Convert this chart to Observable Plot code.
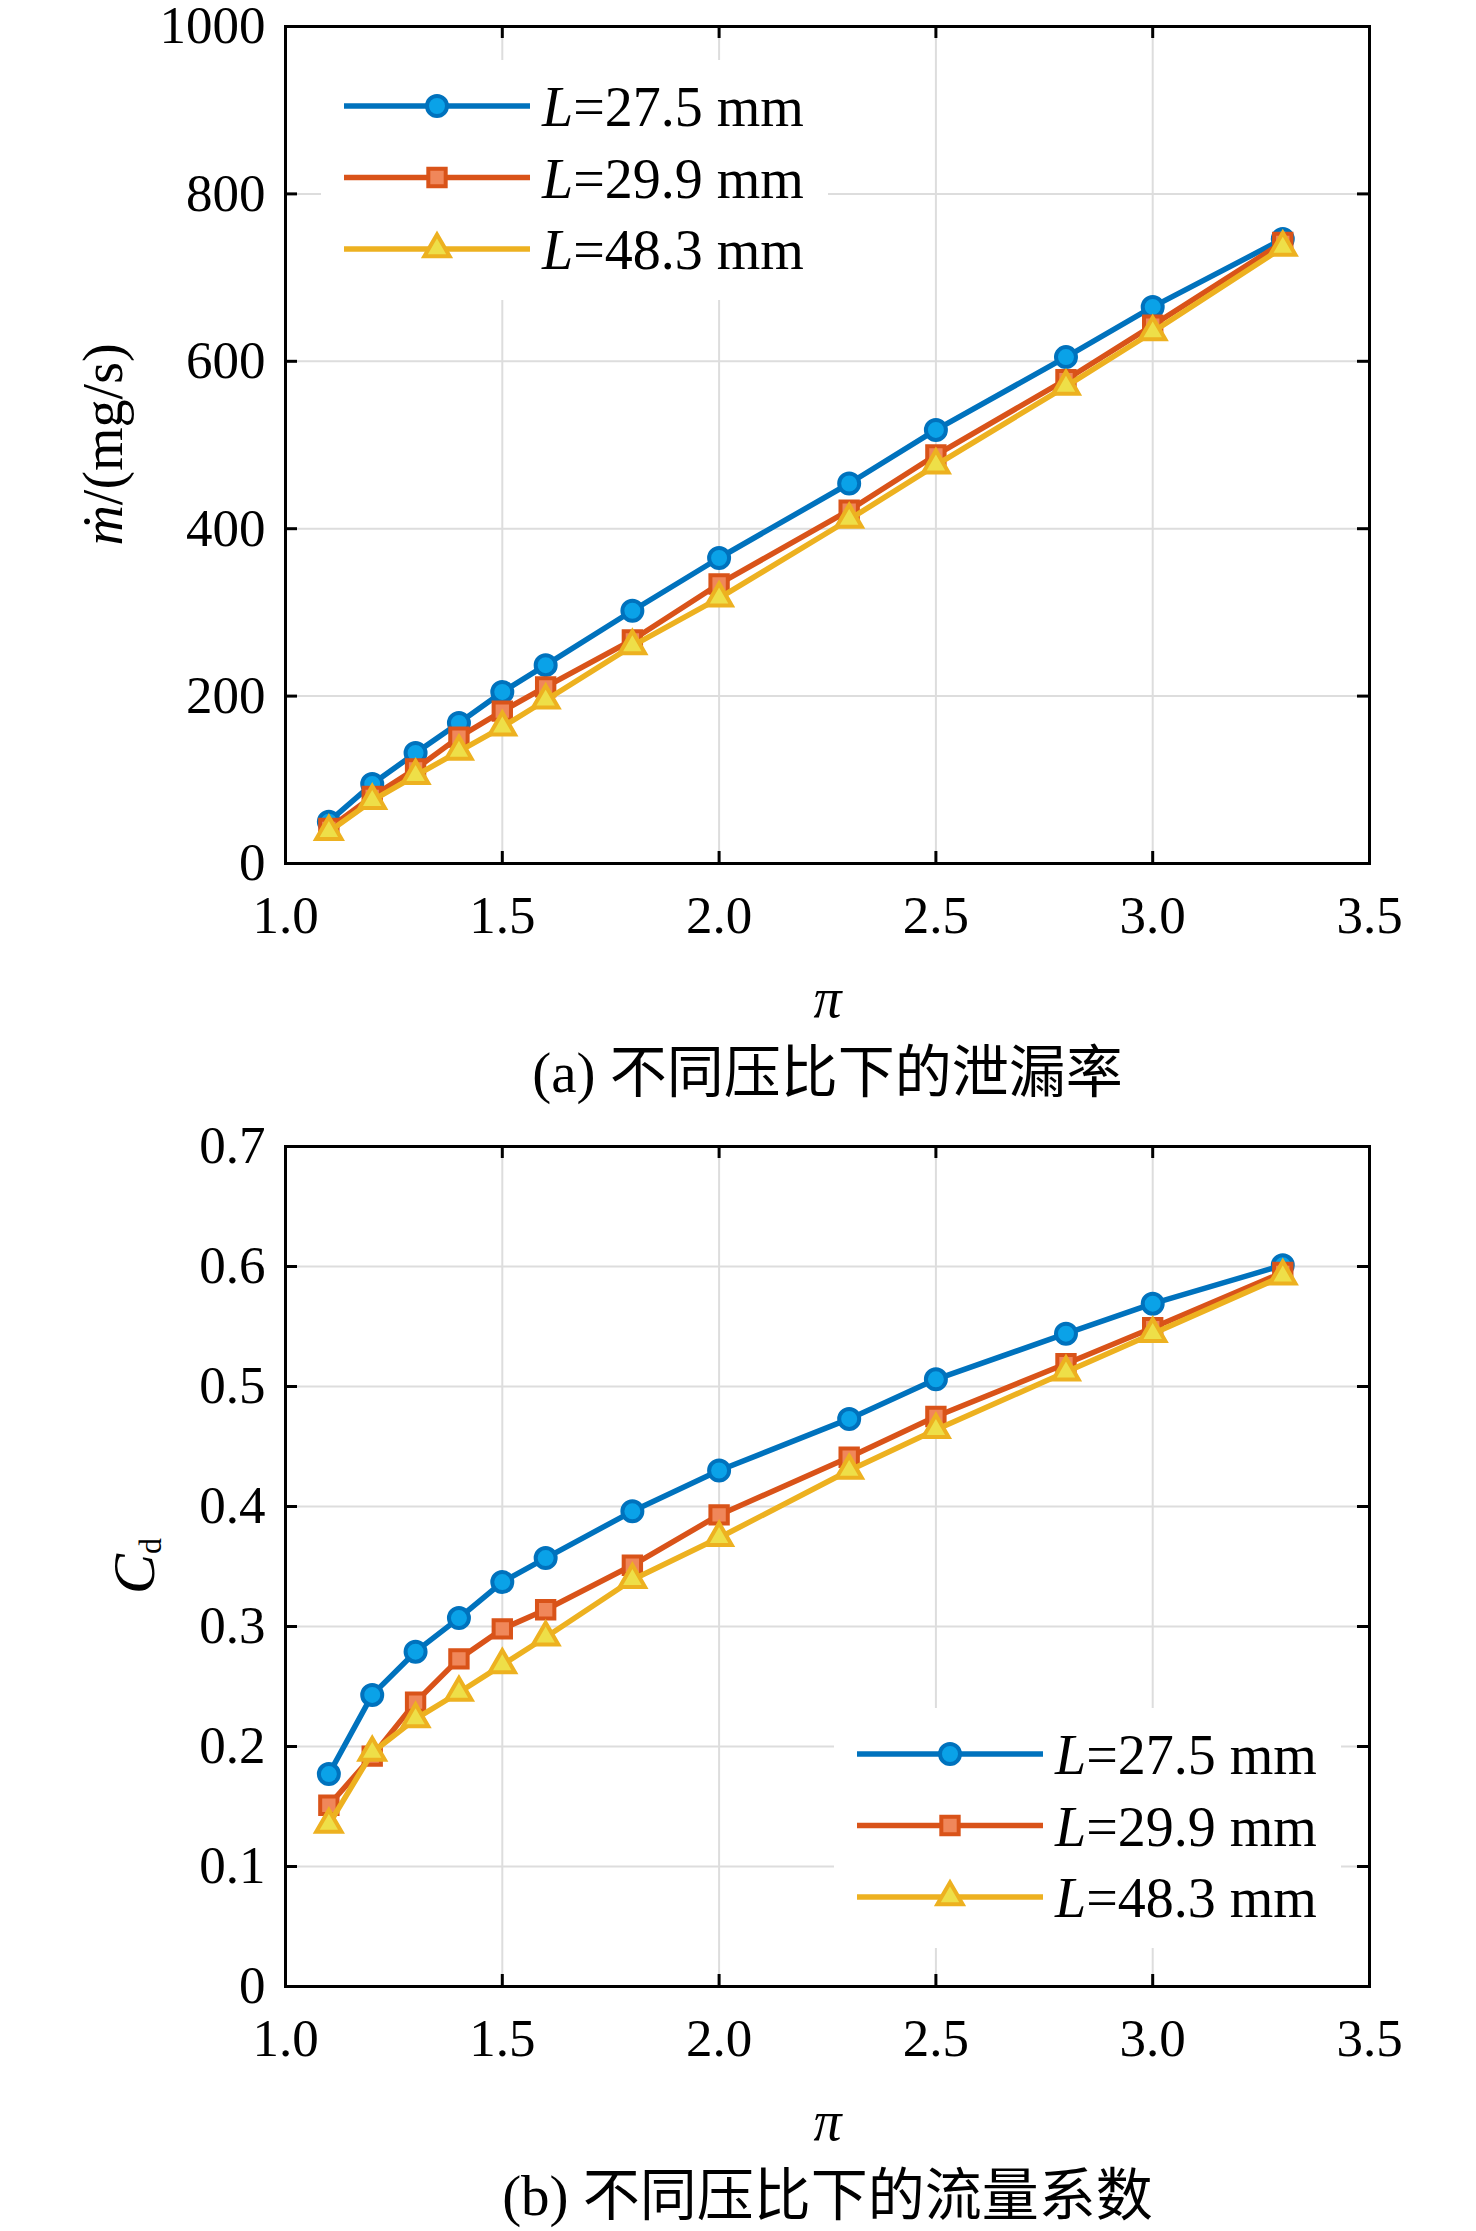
<!DOCTYPE html>
<html>
<head>
<meta charset="utf-8">
<script src="https://cdn.jsdelivr.net/npm/d3@7"></script>
<script src="https://cdn.jsdelivr.net/npm/@observablehq/plot@0.6"></script>
<style>
  html, body { margin: 0; padding: 0; background: #fff; }
  svg { display: block; }
</style>
</head>
<body>
<div id="chart"></div>
<script>
// ---------------- data ----------------
const piVals = [1.1, 1.2, 1.3, 1.4, 1.5, 1.6, 1.8, 2.0, 2.3, 2.5, 2.8, 3.0, 3.3];

const leak275 = [50, 95, 132, 168, 205, 237, 302, 365, 454, 518, 605, 665, 746];
const leak299 = [42, 80, 113, 151, 182, 211, 267, 334, 422, 488, 578, 643, 742];
const leak483 = [38, 75, 105, 134, 163, 195, 260, 317, 411, 476, 570, 635, 736];

const cd275 = [0.177, 0.243, 0.279, 0.307, 0.337, 0.357, 0.396, 0.430, 0.473, 0.506, 0.544, 0.569, 0.601];
const cd299 = [0.151, 0.192, 0.237, 0.273, 0.298, 0.314, 0.351, 0.393, 0.441, 0.475, 0.519, 0.549, 0.595];
const cd483 = [0.135, 0.195, 0.223, 0.245, 0.268, 0.291, 0.339, 0.374, 0.430, 0.464, 0.512, 0.544, 0.592];

const seriesValueLabels = ["=27.5 mm", "=29.9 mm", "=48.3 mm"];
const seriesPrefix = "L";

const xTicks = [1.0, 1.5, 2.0, 2.5, 3.0, 3.5];
const xTickLabels = ["1.0", "1.5", "2.0", "2.5", "3.0", "3.5"];
const leakTicks = [0, 200, 400, 600, 800, 1000];
const leakTickLabels = ["0", "200", "400", "600", "800", "1000"];
const cdTicks = [0, 0.1, 0.2, 0.3, 0.4, 0.5, 0.6, 0.7];
const cdTickLabels = ["0", "0.1", "0.2", "0.3", "0.4", "0.5", "0.6", "0.7"];

const xLabel = "π";
const captionA = "(a) 不同压比下的泄漏率";
const captionB = "(b) 不同压比下的流量系数";

// ---------------- styles ----------------
const lineColors = ["#0072BD", "#D95319", "#EDB120"];
const fillColors = ["#0AA2E8", "#F0875A", "#EEDF48"];
const symbols = ["circle", "square", "triangle"];
const d3Symbols = [d3.symbolCircle, d3.symbolSquare, d3.symbolTriangle];
const radii = [10, 9.8, 9.4];
const LW = 5.5;
const FONT = "'Liberation Serif', 'Times New Roman', 'Noto Sans CJK SC', serif";
const W = 1476, ML = 285, MR = 107;

function legendMark(pos) {
  return (index, scales, values, dims) => {
    const { width, height, marginLeft, marginTop, marginRight, marginBottom } = dims;
    const bw = 507, bh = 240;
    const x0 = pos === "tl" ? marginLeft + 36 : width - marginRight - 535;
    const y0 = pos === "tl" ? marginTop + 34 : height - marginBottom - 278;
    const g = d3.create("svg:g");
    g.append("rect").attr("x", x0).attr("y", y0).attr("width", bw).attr("height", bh).attr("fill", "white");
    seriesValueLabels.forEach((lab, s) => {
      const y = y0 + 46 + s * 71.5;
      g.append("line")
        .attr("x1", x0 + 23).attr("x2", x0 + 209).attr("y1", y).attr("y2", y)
        .attr("stroke", lineColors[s]).attr("stroke-width", LW);
      g.append("path")
        .attr("transform", `translate(${x0 + 116},${y})`)
        .attr("d", d3.symbol(d3Symbols[s], radii[s] * radii[s] * Math.PI)())
        .attr("fill", fillColors[s]).attr("stroke", lineColors[s]).attr("stroke-width", 4);
      const t = g.append("text")
        .attr("x", x0 + 221).attr("y", y + 20)
        .attr("text-anchor", "start")
        .attr("font-family", FONT).attr("font-size", 56).attr("fill", "black");
      t.append("tspan").attr("font-style", "italic").text(seriesPrefix);
      t.append("tspan").text(lab);
    });
    return g.node();
  };
}

function yLabelLeak(index, scales, values, dims) {
  const { marginLeft, marginTop, height, marginBottom } = dims;
  const cy = marginTop + (height - marginTop - marginBottom) / 2;
  const t = d3.create("svg:text")
    .attr("transform", `translate(${marginLeft - 163},${cy}) rotate(-90)`)
    .attr("text-anchor", "middle")
    .attr("font-family", FONT).attr("font-size", 56).attr("fill", "black");
  t.append("tspan").attr("font-style", "italic").text("ṁ");
  t.append("tspan").text("/(mg/s)");
  return t.node();
}

function yLabelCd(index, scales, values, dims) {
  const { marginLeft, marginTop, height, marginBottom } = dims;
  const cy = marginTop + (height - marginTop - marginBottom) / 2;
  const t = d3.create("svg:text")
    .attr("transform", `translate(${marginLeft - 131},${cy}) rotate(-90)`)
    .attr("text-anchor", "middle")
    .attr("font-family", FONT).attr("fill", "black");
  t.append("tspan").attr("font-style", "italic").attr("font-size", 60).text("C");
  t.append("tspan").attr("font-size", 32).attr("dy", 7).text("d");
  return t.node();
}

function panel({ series, yDomain, yTicks, yTickLabels, height, mt, mb, legendPos, yLabelFn, caption }) {
  const fh = height - mt - mb, fw = W - ML - MR;
  const tickLen = 12;
  const marks = [
    Plot.ruleX(xTicks, { x: d => d, stroke: "#dddddd", strokeWidth: 2 }),
    Plot.ruleY(yTicks, { y: d => d, stroke: "#dddddd", strokeWidth: 2 })
  ];
  series.forEach((vals, s) => {
    const data = vals.map((v, i) => ({ pi: piVals[i], v }));
    marks.push(Plot.line(data, { x: "pi", y: "v", stroke: lineColors[s], strokeWidth: LW }));
    marks.push(Plot.dot(data, {
      x: "pi", y: "v", symbol: symbols[s], r: radii[s],
      fill: fillColors[s], stroke: lineColors[s], strokeWidth: 4
    }));
  });
  marks.push(legendMark(legendPos));
  // inward ticks on all four sides
  marks.push(Plot.tickX(xTicks, { x: d => d, insetTop: fh - tickLen, stroke: "black", strokeWidth: 3 }));
  marks.push(Plot.tickX(xTicks, { x: d => d, insetBottom: fh - tickLen, stroke: "black", strokeWidth: 3 }));
  marks.push(Plot.tickY(yTicks, { y: d => d, insetRight: fw - tickLen, stroke: "black", strokeWidth: 3 }));
  marks.push(Plot.tickY(yTicks, { y: d => d, insetLeft: fw - tickLen, stroke: "black", strokeWidth: 3 }));
  marks.push(Plot.frame({ stroke: "black", strokeWidth: 3 }));
  // tick labels
  marks.push(Plot.text(xTicks, {
    x: d => d, text: (d, i) => xTickLabels[i], frameAnchor: "bottom", dy: 53,
    fontSize: 53, lineAnchor: "middle", fill: "black"
  }));
  marks.push(Plot.text(yTicks, {
    y: d => d, text: (d, i) => yTickLabels[i], frameAnchor: "left", dx: -20,
    textAnchor: "end", fontSize: 53, lineAnchor: "middle", fill: "black"
  }));
  // axis labels and caption
  marks.push(Plot.text([xLabel], {
    text: d => d, frameAnchor: "bottom", dy: 153, fontSize: 56, fontStyle: "italic", fill: "black"
  }));
  marks.push(yLabelFn);
  marks.push(Plot.text([caption], {
    text: d => d, frameAnchor: "bottom", dy: 228, fontSize: 57, fill: "black"
  }));

  return Plot.plot({
    width: W,
    height,
    marginLeft: ML, marginRight: MR, marginTop: mt, marginBottom: mb,
    style: { fontFamily: FONT, background: "white", color: "black", overflow: "visible" },
    x: { domain: [1, 3.5], axis: null },
    y: { domain: yDomain, axis: null },
    marks
  });
}

const chart = document.getElementById("chart");
chart.appendChild(panel({
  series: [leak275, leak299, leak483],
  yDomain: [0, 1000], yTicks: leakTicks, yTickLabels: leakTickLabels,
  height: 1110, mt: 26, mb: 247, legendPos: "tl", yLabelFn: yLabelLeak, caption: captionA
}));
chart.appendChild(panel({
  series: [cd275, cd299, cd483],
  yDomain: [0, 0.7], yTicks: cdTicks, yTickLabels: cdTickLabels,
  height: 1121, mt: 36, mb: 245, legendPos: "br", yLabelFn: yLabelCd, caption: captionB
}));
</script>
</body>
</html>
